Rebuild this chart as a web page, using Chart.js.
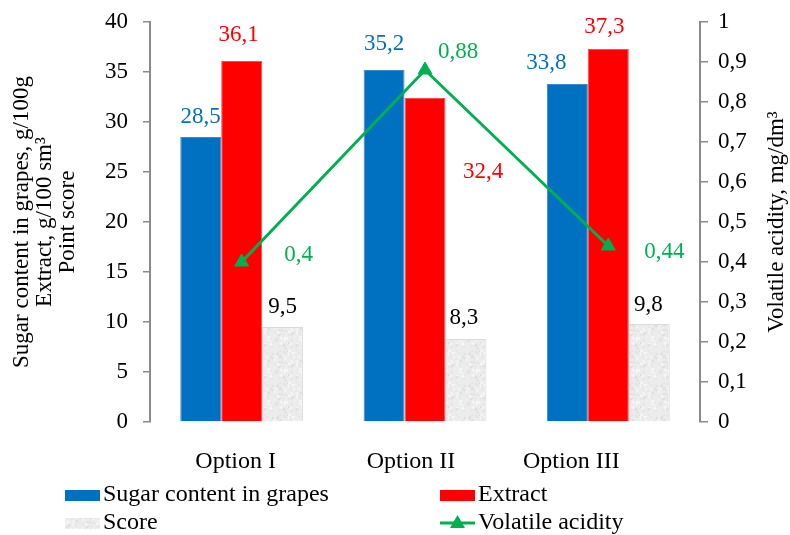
<!DOCTYPE html>
<html>
<head>
<meta charset="utf-8">
<script src="https://cdn.jsdelivr.net/npm/chart.js@4.4.1/dist/chart.umd.min.js"></script>
<style>
  html, body { margin: 0; padding: 0; background: #ffffff; }
  #wrap { width: 790px; height: 535px; }
</style>
</head>
<body>
<div id="wrap"><canvas id="chart" width="790" height="535"></canvas></div>
<script>
// ---- data ----
const categories = ['Option I', 'Option II', 'Option III'];
const sugarContent = [28.5, 35.2, 33.8];      // g/100g
const extract = [36.1, 32.4, 37.3];           // g/100 sm3
const score = [9.5, 8.3, 9.8];                // points
const volatileAcidity = [0.4, 0.88, 0.44];    // mg/dm3

const leftTickLabels = ['0', '5', '10', '15', '20', '25', '30', '35', '40'];
const rightTickLabels = ['0', '0,1', '0,2', '0,3', '0,4', '0,5', '0,6', '0,7', '0,8', '0,9', '1'];

// ---- styling ----
const SERIF = '"Liberation Serif", "Times New Roman", serif';
const BLUE = '#0070C0';
const RED = '#FF0000';
const GREEN = '#00B050';
const AXIS_GREY = '#8a8a8a';

// value-label nudges (dx, dy) relative to the bar top / point, in px
const sugarNudge = [[0, -20], [0, -26], [-21, -21]];
const extractNudge = [[-3, -26], [58, 74], [-4, -22]];
const scoreNudge = [[0, -20], [-2, -21], [-1, -19]];
const acidityNudge = [[57, -7], [33, -18], [56, 6]];
// category label nudges along x
const categoryNudge = [-6, -14, -37];

const fmt = v => String(v).replace('.', ',');

const canvas = document.getElementById('chart');
const ctx = canvas.getContext('2d');

// light grey speckled fill for the score bars
function speckledPattern() {
  const t = document.createElement('canvas');
  t.width = 32; t.height = 32;
  const g = t.getContext('2d');
  g.fillStyle = '#ececec';
  g.fillRect(0, 0, 32, 32);
  let s = 12345;
  const next = () => (s = (s * 16807) % 2147483647) / 2147483647;
  for (let i = 0; i < 120; i++) {
    const x = next() * 32, y = next() * 32, r = 0.5 + next() * 1.0;
    g.fillStyle = next() < 0.5 ? '#e0e0e0' : '#f7f7f7';
    g.beginPath();
    g.arc(x, y, r, 0, Math.PI * 2);
    g.fill();
  }
  return ctx.createPattern(t, 'repeat');
}
const scoreFill = speckledPattern();

// value labels drawn above/next to each mark
const valueLabels = {
  id: 'valueLabels',
  afterDatasetsDraw(chart) {
    const c = chart.ctx;
    const specs = [
      { nudge: sugarNudge, color: BLUE },
      { nudge: extractNudge, color: RED },
      { nudge: scoreNudge, color: '#000000' },
      { nudge: acidityNudge, color: GREEN }
    ];
    c.save();
    c.font = `23px ${SERIF}`;
    c.textAlign = 'center';
    c.textBaseline = 'middle';
    chart.data.datasets.forEach((ds, di) => {
      const meta = chart.getDatasetMeta(di);
      meta.data.forEach((el, i) => {
        const [dx, dy] = specs[di].nudge[i];
        c.fillStyle = specs[di].color;
        c.fillText(fmt(ds.data[i]), el.x + dx, el.y + dy);
      });
    });
    c.restore();
  }
};

// category names under the groups, and the right-hand axis title read bottom-to-top
const axisText = {
  id: 'axisText',
  afterDraw(chart) {
    const c = chart.ctx;
    const xs = chart.scales.x;
    const ys = chart.scales.y1;
    c.save();
    c.font = `24px ${SERIF}`;
    c.fillStyle = '#000000';
    c.textAlign = 'center';
    c.textBaseline = 'middle';
    categories.forEach((name, i) => {
      c.fillText(name, xs.getPixelForValue(i) + categoryNudge[i], 462);
    });
    c.font = `23px ${SERIF}`;
    c.translate(ys.right - 13, (ys.top + ys.bottom) / 2);
    c.rotate(-Math.PI / 2);
    c.fillText('Volatile acidity, mg/dm\u00B3', 0, 0);
    c.restore();
  }
};

// two-column legend below the plot
const legendGrid = {
  id: 'legendGrid',
  afterDraw(chart) {
    const c = chart.ctx;
    const cols = [65, 440];
    const rows = [495, 523];
    const slots = [[0, 0], [1, 0], [0, 1], [1, 1]];
    c.save();
    c.font = `24px ${SERIF}`;
    c.textBaseline = 'middle';
    c.textAlign = 'left';
    chart.data.datasets.forEach((ds, i) => {
      const x = cols[slots[i][0]];
      const y = rows[slots[i][1]];
      if (ds.type === 'line') {
        c.strokeStyle = ds.borderColor;
        c.lineWidth = 3;
        c.beginPath();
        c.moveTo(x, y);
        c.lineTo(x + 35, y);
        c.stroke();
        c.fillStyle = ds.borderColor;
        c.beginPath();
        c.moveTo(x + 17.5, y - 8);
        c.lineTo(x + 25, y + 5);
        c.lineTo(x + 10, y + 5);
        c.closePath();
        c.fill();
      } else {
        c.fillStyle = ds.backgroundColor;
        c.fillRect(x, y - 5, 35, 11);
      }
      c.fillStyle = '#000000';
      c.fillText(ds.label, x + 38, y);
    });
    c.restore();
  }
};

// fixed axis widths; the plot's top edge is set by the layout padding alone
function fixVertical(width) {
  return s => {
    s.width = width;
    s.paddingTop = 0;
    s.paddingBottom = 0;
  };
}

new Chart(ctx, {
  type: 'bar',
  data: {
    labels: categories,
    datasets: [
      {
        label: 'Sugar content in grapes',
        data: sugarContent,
        backgroundColor: BLUE,
        borderColor: '#3d8ad0',
        borderWidth: 1,
        yAxisID: 'y',
        order: 1
      },
      {
        label: 'Extract',
        data: extract,
        backgroundColor: RED,
        borderColor: '#ff4a4a',
        borderWidth: 1,
        yAxisID: 'y',
        order: 1
      },
      {
        label: 'Score',
        data: score,
        backgroundColor: scoreFill,
        borderColor: '#dadada',
        borderWidth: 1,
        yAxisID: 'y',
        order: 1
      },
      {
        type: 'line',
        label: 'Volatile acidity',
        data: volatileAcidity,
        yAxisID: 'y1',
        borderColor: GREEN,
        backgroundColor: GREEN,
        borderWidth: 3,
        pointStyle: 'triangle',
        pointRadius: 8,
        pointBorderWidth: 1,
        pointBackgroundColor: GREEN,
        pointBorderColor: GREEN,
        tension: 0,
        fill: false,
        order: 0
      }
    ]
  },
  options: {
    responsive: false,
    animation: false,
    devicePixelRatio: 1,
    layout: { padding: { top: 22, left: 0, right: 0, bottom: 0 } },
    datasets: { bar: { categoryPercentage: 0.67, barPercentage: 1 } },
    plugins: { legend: { display: false }, tooltip: { enabled: false } },
    scales: {
      x: {
        grid: { display: false },
        border: { display: false },
        ticks: { display: false },
        afterFit(s) { s.height = 113; }
      },
      y: {
        position: 'left',
        min: 0,
        max: 40,
        ticks: {
          stepSize: 5,
          color: '#000000',
          font: { family: SERIF, size: 23 },
          padding: 15,
          callback: (v, i) => leftTickLabels[i]
        },
        grid: { drawOnChartArea: false, color: AXIS_GREY, tickLength: 7, lineWidth: 1.5 },
        border: { color: AXIS_GREY, width: 2 },
        title: {
          display: true,
          text: ['Sugar content in grapes, g/100g', 'Extract, g/100 sm\u00B3', 'Point score'],
          color: '#000000',
          font: { family: SERIF, size: 23, lineHeight: 1.0 },
          padding: { top: 10, bottom: 0 }
        },
        afterFit: fixVertical(150)
      },
      y1: {
        position: 'right',
        min: 0,
        max: 1,
        ticks: {
          stepSize: 0.1,
          color: '#000000',
          font: { family: SERIF, size: 23 },
          padding: 10,
          callback: (v, i) => rightTickLabels[i]
        },
        grid: { drawOnChartArea: false, color: AXIS_GREY, tickLength: 8, lineWidth: 1.5 },
        border: { color: AXIS_GREY, width: 2 },
        title: { display: false },
        afterFit: fixVertical(90)
      }
    }
  },
  plugins: [valueLabels, axisText, legendGrid]
});
</script>
</body>
</html>
